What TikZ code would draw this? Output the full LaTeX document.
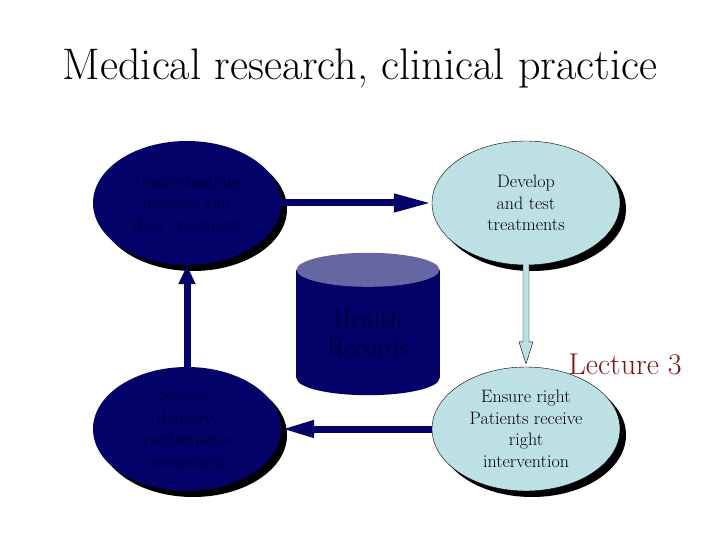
\documentclass[tikz,border=0pt]{standalone}
\usetikzlibrary{shapes.geometric,shadows,arrows.meta,calc}
\definecolor{navy}{RGB}{2,2,105}
\definecolor{navytext}{RGB}{0,0,55}
\definecolor{cyltop}{RGB}{102,102,163}
\definecolor{lblue}{RGB}{188,224,228}
\definecolor{maroon}{RGB}{128,18,18}
\tikzset{
  proc/.style={ellipse, minimum width=188pt, minimum height=124pt, inner sep=0pt,
    align=center, font=\fontsize{18}{21.5}\selectfont,
    drop shadow={shadow xshift=6pt, shadow yshift=-6pt, fill=black, opacity=1}},
  darkproc/.style={proc, fill=navy, text=navytext},
  lightproc/.style={proc, fill=lblue, draw=black, line width=0.4pt, text=black},
  navyarrow/.style={draw=navy, line width=7pt},
}
\begin{document}
\begin{tikzpicture}[x=1pt,y=-1pt]
\useasboundingbox (0,0) rectangle (720,540);
\fill[white] (0,0) rectangle (720,540);
\node[anchor=base, font=\fontsize{44.2}{50}\selectfont] (title) at (360,80) {Medical research, clinical practice};
\node[darkproc] (tl) at (187,203) {Understanding\\diseases and\\their treatment};
\node[lightproc] (tr) at (526,203) {Develop\\and test\\treatments};
\node[darkproc] (bl) at (187,429) {Service\\delivery,\\performance\\assessment};
\node[lightproc] (br) at (526,429) {Ensure right\\Patients receive\\right\\intervention};
% health records cylinder
\node[minimum width=143pt, minimum height=142pt, inner sep=0pt] (db) at (368,324) {};
\fill[navy] ($(db.south)+(0,-17)$) ellipse[x radius=71.5, y radius=17];
\fill[navy] ($(db.north west)+(0,17)$) rectangle ($(db.south east)+(0,-17)$);
\fill[cyltop] ($(db.north)+(0,17)$) ellipse[x radius=71.5, y radius=17];
\node[align=center, text=navytext, font=\fontsize{26}{29}\selectfont] (dbtext) at (368,333) {Health\\Records};
\node[anchor=base west, text=maroon, font=\fontsize{30}{32}\selectfont] (lec) at (565,374) {Lecture 3};
% connectors
\draw[navyarrow, -{Triangle[length=38pt,width=17pt]}] (tl.east) -- (tr.west);
\draw[navyarrow, -{Triangle[length=33pt,width=16pt]}] (br.west) -- (bl.east);
\draw[navyarrow, -{Triangle[length=19pt,width=16pt]}] (bl.north) -- (tl.south);
\draw[fill=lblue, draw=black, line width=0.4pt]
  ($(tr.south)+(-3,-1)$) -- ($(br.north)+(-3,-25)$) -- ($(br.north)+(-7,-25)$)
  -- ($(br.north)+(0,-3)$) -- ($(br.north)+(7,-25)$) -- ($(br.north)+(3,-25)$)
  -- ($(tr.south)+(3,-1)$);
\end{tikzpicture}
\end{document}
